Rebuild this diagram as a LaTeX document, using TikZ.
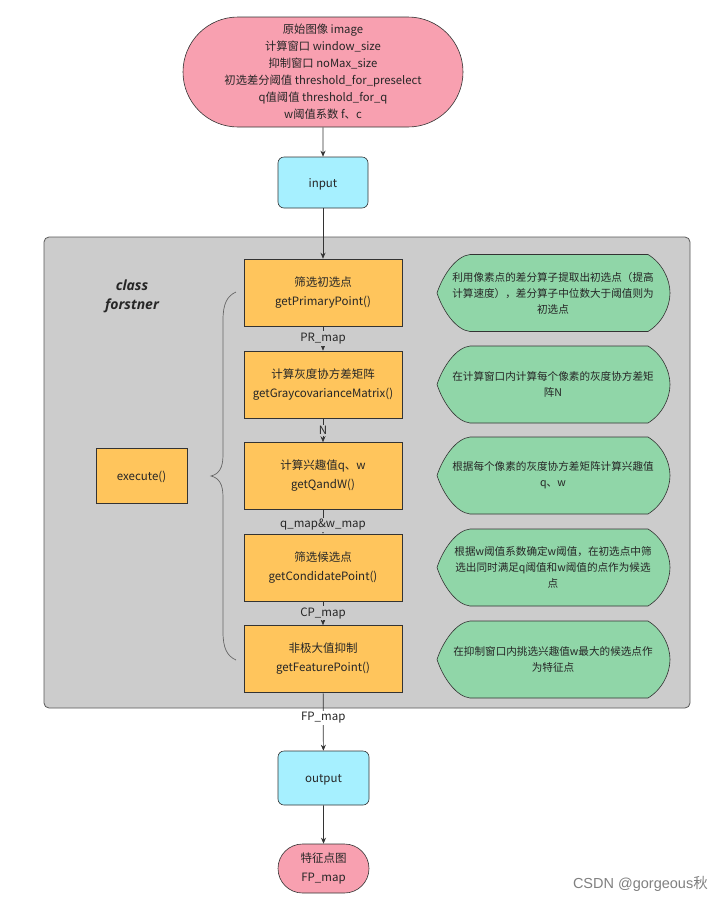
\documentclass[tikz,border=0pt]{standalone}
\usepackage{fontspec}
\setmainfont{Noto Sans CJK SC}
\newfontfamily\clsfont{Open Sans}
\newfontfamily\wmfont{Liberation Sans}
\usetikzlibrary{arrows.meta,shapes.misc}
\definecolor{pinkc}{HTML}{F8A0B0}
\definecolor{cyanc}{HTML}{A6F0FF}
\definecolor{orangec}{HTML}{FFC55C}
\definecolor{greenc}{HTML}{90D6A8}
\definecolor{grayc}{HTML}{CCCCCC}
\definecolor{linec}{HTML}{333333}
\newcommand\lowertext[2]{\raisebox{0pt}[\dimexpr\height+#1\relax]{#2}}
\tikzset{
  x=1pt,y=-1pt,
  every node/.style={inner sep=0pt,text=black!85},
  stad/.style={rounded rectangle,draw=linec,fill=pinkc,line width=0.6pt,align=center},
  cyanbox/.style={rectangle,rounded corners=6pt,draw=linec,fill=cyanc,line width=0.6pt,minimum width=90pt,minimum height=51pt,font=\fontsize{11.5}{14}\selectfont},
  obox/.style={rectangle,draw=linec,fill=orangec,line width=0.6pt,minimum width=158pt,minimum height=67pt,align=center,font=\fontsize{11.5}{19}\selectfont},
  greenshape/.style={draw=linec,fill=greenc,line width=0.6pt},
  gtext/.style={align=center,font=\fontsize{10.6}{16}\selectfont},
  arr/.style={-{Stealth[length=6pt,width=5pt]},draw=linec,line width=0.7pt},
  lbl/.style={fill=grayc,inner sep=1.5pt,font=\fontsize{11.5}{13}\selectfont},
}
\newcommand\dispshape[2]{%
  \path[greenshape] (470,#1-38.5) -- (648,#1-38.5)
    .. controls (662,#1-30) and (670,#1-14) .. (670,#1)
    .. controls (670,#1+14) and (662,#1+30) .. (648,#1+38.5)
    -- (470,#1+38.5)
    .. controls (456,#1+37) and (443,#1+18) .. (437,#1)
    .. controls (443,#1-18) and (456,#1-37) .. (470,#1-38.5) -- cycle;
  \coordinate (#2) at (553,#1);
}
\begin{document}
\begin{tikzpicture}
\useasboundingbox (0,0) rectangle (724,903);
\fill[white] (0,0) rectangle (724,903);
% container
\node[rectangle,rounded corners=5pt,draw=black!65,fill=grayc,line width=0.8pt,minimum width=646pt,minimum height=471pt] (cls) at (367,472.5) {};
% top
\node[stad,minimum width=280pt,minimum height=110pt,font=\fontsize{11.3}{17}\selectfont] (src) at (323,72)
 {原始图像 image\\计算窗口 window\_size\\抑制窗口 noMax\_size\\初选差分阈值 threshold\_for\_preselect\\q值阈值 threshold\_for\_q\\w阈值系数 f、c};
\node[cyanbox] (in) at (323,182.5) {\lowertext{4pt}{input}};
% boxes
\node[obox] (b1) at (323,292.5) {筛选初选点\\getPrimaryPoint()};
\node[obox] (b2) at (323,384.5) {计算灰度协方差矩阵\\getGraycovarianceMatrix()};
\node[obox] (b3) at (323,476) {计算兴趣值q、w\\getQandW()};
\node[obox] (b4) at (323,567.5) {筛选候选点\\getCondidatePoint()};
\node[obox] (b5) at (323,659) {非极大值抑制\\getFeaturePoint()};
\node[obox,minimum width=91pt,minimum height=55pt] (exec) at (141.5,475.5) {\lowertext{2pt}{execute()}};
\node[align=center,font=\clsfont\bfseries\itshape\fontsize{14}{19}\selectfont] (cname) at (132,296) {class\\forstner};
% brace
\draw[draw=black!60,line width=0.7pt] (236,292) .. controls (227,296) and (223,304) .. (223,320) -- (223,455)
  .. controls (223,468) and (219,474) .. (211,476) .. controls (219,478) and (223,484) .. (223,497)
  -- (223,632) .. controls (223,648) and (227,656) .. (236,660);
% green shapes
\dispshape{293}{g1}
\node[gtext] (t1) at (g1) {利用像素点的差分算子提取出初选点（提高\\计算速度），差分算子中位数大于阈值则为\\初选点};
\dispshape{384.5}{g2}
\node[gtext] (t2) at (g2) {在计算窗口内计算每个像素的灰度协方差矩\\阵N};
\dispshape{475.5}{g3}
\node[gtext] (t3) at (g3) {根据每个像素的灰度协方差矩阵计算兴趣值\\q、w};
\dispshape{567.5}{g4}
\node[gtext] (t4) at (g4) {根据w阈值系数确定w阈值，在初选点中筛\\选出同时满足q阈值和w阈值的点作为候选\\点};
\dispshape{659.5}{g5}
\node[gtext] (t5) at (g5) {在抑制窗口内挑选兴趣值w最大的候选点作\\为特征点};
% bottom
\node[cyanbox,minimum width=91pt,minimum height=54pt] (out) at (323.5,778) {\lowertext{4pt}{output}};
\node[stad,minimum width=91pt,minimum height=49pt,font=\fontsize{11.5}{19}\selectfont] (fin) at (323.5,868.5) {特征点图\\FP\_map};
% arrows
\draw[arr] (src) -- (in);
\draw[arr] (in) -- (b1);
\draw[arr] (b1) -- node[lbl] (l1) {PR\_map} (b2);
\draw[arr] (b2) -- node[lbl] (l2) {N} (b3);
\draw[arr] (b3) -- node[lbl,pos=0.62] (l3) {q\_map\&w\_map} (b4);
\draw[arr] (b4) -- node[lbl] (l4) {CP\_map} (b5);
\draw[arr] (b5) -- node[lbl,fill=white,pos=0.43] (l5) {FP\_map} (out);
\draw[arr] (out) -- (fin);
\node[text=black!50,font=\fontsize{14.5}{16}\selectfont,anchor=east] (wm) at (708,884) {{\wmfont CSDN @gorgeous}秋};
\end{tikzpicture}
\end{document}
